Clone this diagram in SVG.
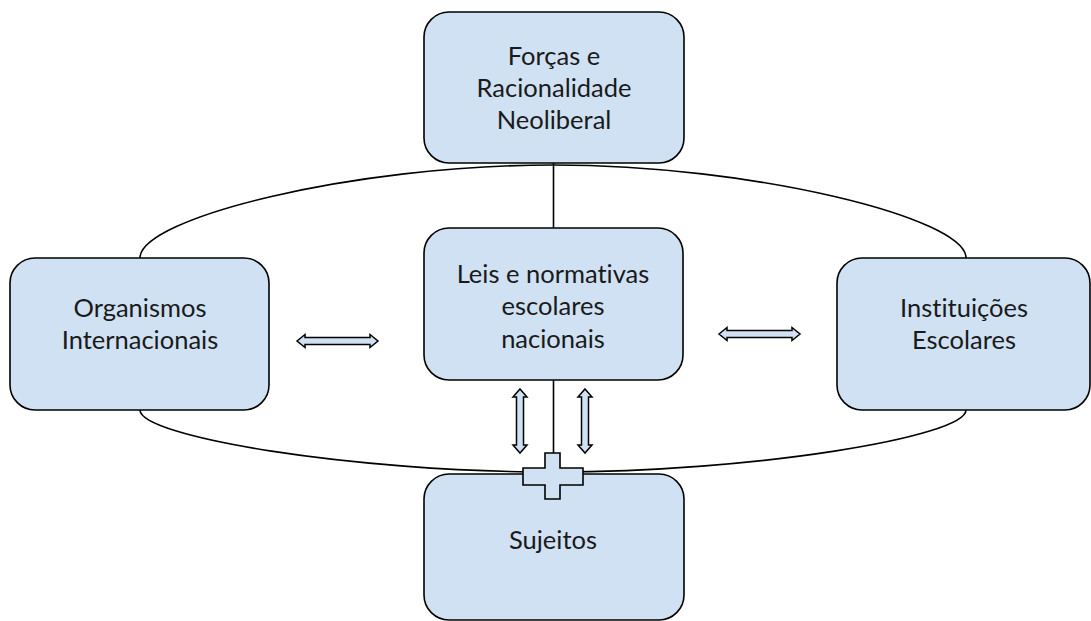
<svg xmlns="http://www.w3.org/2000/svg" width="1091" height="621" viewBox="0 0 1091 621">
<style>
.box{fill:#cfe1f2;stroke:#000;stroke-width:1.6}
.ln{fill:none;stroke:#000;stroke-width:1.6}
.arr{fill:#cfe1f2;stroke:#000;stroke-width:1.5;stroke-linejoin:miter}
.t{font-family:Lato,"Open Sans",sans-serif;font-size:25.5px;fill:#1a1a1a;text-anchor:middle;font-variant-ligatures:none}
</style>
<rect width="1091" height="621" fill="#fff"/>
<g id="connectors">
<path class="ln" d="M140,258 C140,218 353,165 553,165 C753,165 966,218 966,258"/>
<path class="ln" d="M140,410 C140,437 353,472 553,472 C753,472 966,437 966,410"/>
<line class="ln" x1="553.5" y1="163" x2="553.5" y2="228"/>
<line class="ln" x1="553.5" y1="380" x2="553.5" y2="453"/>
<path class="arr" d="M297,341 L305,334.5 L305,337.5 L370,337.5 L370,334.5 L378,341 L370,347.5 L370,344.5 L305,344.5 L305,347.5 Z"/>
<path class="arr" d="M719,334 L727,327.5 L727,330.5 L792,330.5 L792,327.5 L800,334 L792,340.5 L792,337.5 L727,337.5 L727,340.5 Z"/>
<path class="arr" d="M520,389 L527,397 L523.5,397 L523.5,445 L527,445 L520,453 L513,445 L516.5,445 L516.5,397 L513,397 Z"/>
<path class="arr" d="M585,389 L592,397 L588.5,397 L588.5,445 L592,445 L585,453 L578,445 L581.5,445 L581.5,397 L578,397 Z"/>
</g>
<g id="node-forcas">
<rect class="box" x="424" y="12" width="260" height="151" rx="25"/>
<text class="t" x="554" y="65">Forças e</text>
<text class="t" x="554" y="97">Racionalidade</text>
<text class="t" x="554" y="129">Neoliberal</text>
</g>
<g id="node-leis">
<rect class="box" x="424" y="228" width="259" height="152" rx="25"/>
<text class="t" x="553" y="283">Leis e normativas</text>
<text class="t" x="553" y="315">escolares</text>
<text class="t" x="553" y="348">nacionais</text>
</g>
<g id="node-organismos">
<rect class="box" x="10" y="258" width="259" height="152" rx="25"/>
<text class="t" x="140" y="317">Organismos</text>
<text class="t" x="140" y="349">Internacionais</text>
</g>
<g id="node-instituicoes">
<rect class="box" x="837" y="258" width="253" height="152" rx="25"/>
<text class="t" x="964" y="317">Instituições</text>
<text class="t" x="964" y="349">Escolares</text>
</g>
<g id="node-sujeitos">
<rect class="box" x="424" y="474" width="260" height="146" rx="25"/>
<text class="t" x="553" y="549">Sujeitos</text>
<path class="box" d="M545,453 L560,453 L560,468 L583,468 L583,485 L560,485 L560,499 L545,499 L545,485 L523,485 L523,468 L545,468 Z"/>
</g>
</svg>
